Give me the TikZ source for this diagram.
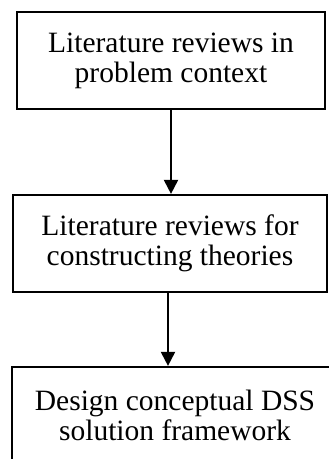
\documentclass[tikz,border=0pt]{standalone}
\usepackage{fontspec}
\setmainfont{Liberation Serif}
\usetikzlibrary{arrows.meta}

\begin{document}
\begin{tikzpicture}[x=1pt,y=-1pt,
  stage/.style={draw=black, line width=2.2pt, fill=white, align=center,
    font=\fontsize{29.5}{30}\selectfont, inner sep=0pt},
  flow/.style={line width=2pt, -{Triangle[length=14pt,width=14pt]}}]
  \useasboundingbox (0,0) rectangle (329,459);
  \clip (0,0) rectangle (329,459);
  \fill[white] (0,0) rectangle (329,459);

  % three stacked stages
  \node[stage, minimum width=308pt, minimum height=97pt] (ctx) at (171,60.5)
    {Literature reviews in\\problem context};
  \node[stage, minimum width=314pt, minimum height=97pt] (theo) at (170,243.5)
    {Literature reviews for\\constructing theories};
  \node[stage, minimum width=326pt, minimum height=97pt] (dss) at (175,415.5)
    {Design conceptual DSS\\solution framework};

  % arrows between stages
  \draw[flow] (ctx.south) -- (ctx.south |- theo.north);
  \draw[flow] ([xshift=-2pt]theo.south) -- ([xshift=-2pt]theo.south |- dss.north);
\end{tikzpicture}
\end{document}
